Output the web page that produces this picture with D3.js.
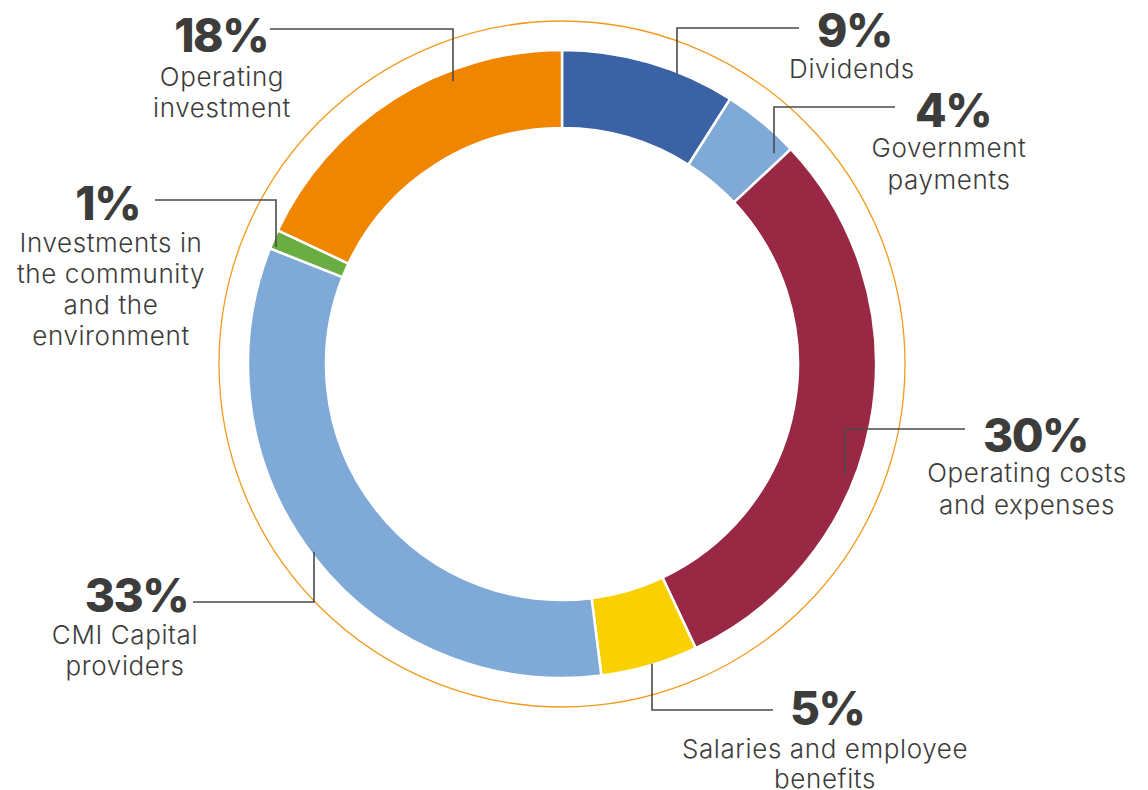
<!DOCTYPE html>
<html>
<head>
<meta charset="utf-8">
<script src="https://cdn.jsdelivr.net/npm/d3@7"></script>
<style>
  html, body { margin: 0; padding: 0; background: #fff; }
  svg { display: block; }
  .pct { font-family: Inter, Lato, sans-serif; font-weight: 800; fill: #3c3c3b; letter-spacing: -1.5px; }
  .lbl { font-family: Inter, Lato, sans-serif; font-weight: 300; fill: #3c3c3b; letter-spacing: 0.6px; }
</style>
</head>
<body>
<svg id="chart" width="1148" height="790"></svg>
<script>
// Distribution of value, in slice order clockwise from 12 o'clock
const categories = [
  "Dividends",
  "Government payments",
  "Operating costs and expenses",
  "Salaries and employee benefits",
  "CMI Capital providers",
  "Investments in the community and the environment",
  "Operating investment"
];
const values = [9, 4, 30, 5, 33, 1, 18];
const colors = ["#3a62a4", "#7fa9d7", "#982843", "#f9d100", "#7fa9d7", "#6aae43", "#f08500"];
// Wrapped label text, one array of lines per category
const labelLines = [
  ["Dividends"],
  ["Government", "payments"],
  ["Operating costs", "and expenses"],
  ["Salaries and employee", "benefits"],
  ["CMI Capital", "providers"],
  ["Investments in", "the community", "and the", "environment"],
  ["Operating", "investment"]
];

const svg = d3.select("#chart");
const cx = 562, cy = 364;
const rInner = 236, rOuter = 314, rRing = 343;

const g = svg.append("g").attr("transform", `translate(${cx},${cy})`);

const pie = d3.pie().sort(null).value(d => d)(values);
const arc = d3.arc().innerRadius(rInner).outerRadius(rOuter);

// thin outer ring
g.append("circle")
  .attr("r", rRing)
  .attr("fill", "none")
  .attr("stroke", "#f39a1e")
  .attr("stroke-width", 1.3);

g.selectAll("path.slice")
  .data(pie)
  .join("path")
  .attr("class", "slice")
  .attr("d", arc)
  .attr("fill", (d, i) => colors[i])
  .attr("stroke", "#fff")
  .attr("stroke-width", 2.5)
  .attr("stroke-linejoin", "miter");

// Label placement per slice:
// r       – radius where the vertical leader ends inside the band
// dropX   – x of the vertical leader
// lineY   – y of the horizontal leader run, lineEnd – where it stops near the text
// pctX/pctY – percentage position, textX/lineStart – centred description lines
const layout = [
  { r: 312, dropX: 677, lineY: 28,  lineEnd: 799, pctX: 817, pctY: 47,  textX: 852,  lineStart: 78,  side: "R" },
  { r: 299, dropX: 774, lineY: 107, lineEnd: 895, pctX: 915, pctY: 127, textX: 949,  lineStart: 157, side: "R" },
  { r: 304, dropX: 845, lineY: 429, lineEnd: 965, pctX: 983, pctY: 452, textX: 1027, lineStart: 482, side: "R" },
  { r: 313, dropX: 652, lineY: 710, lineEnd: 773, pctX: 790, pctY: 725, textX: 825,  lineStart: 758, side: "R" },
  { r: 311, dropX: 314, lineY: 602, lineEnd: 193, pctX: 188, pctY: 612, textX: 125,  lineStart: 644, side: "L" },
  { r: 309, dropX: 276, lineY: 200, lineEnd: 155, pctX: 140, pctY: 220, textX: 111,  lineStart: 252, side: "L" },
  { r: 303, dropX: 453, lineY: 29,  lineEnd: 270, pctX: 268, pctY: 52,  textX: 222,  lineStart: 86,  side: "L" }
];
const lineGap = [31, 32, 32, 30, 31, 31, 31];

const labels = svg.append("g");

pie.forEach((d, i) => {
  const L = layout[i];
  const x = L.dropX;
  // vertical drop ends where it meets the chosen radius inside the band
  const dx = x - cx;
  const dyAbs = Math.sqrt(Math.max(0, L.r * L.r - dx * dx));
  const mid = (d.startAngle + d.endAngle) / 2;
  const yEnd = Math.cos(mid) > 0 ? cy - dyAbs : cy + dyAbs;

  labels.append("path")
    .attr("d", d3.line()([[L.lineEnd, L.lineY], [x, L.lineY], [x, yEnd]]))
    .attr("fill", "none")
    .attr("stroke", "#4a4a49")
    .attr("stroke-width", 1.6);

  labels.append("text")
    .attr("class", "pct")
    .attr("x", L.pctX)
    .attr("y", L.pctY)
    .attr("text-anchor", L.side === "R" ? "start" : "end")
    .attr("font-size", 46)
    .text(values[i] + "%");

  labels.append("text")
    .attr("class", "lbl")
    .attr("text-anchor", "middle")
    .attr("font-size", 26)
    .selectAll("tspan")
    .data(labelLines[i])
    .join("tspan")
    .attr("x", L.textX)
    .attr("y", (t, j) => L.lineStart + j * lineGap[i])
    .text(t => t);
});
</script>
</body>
</html>
